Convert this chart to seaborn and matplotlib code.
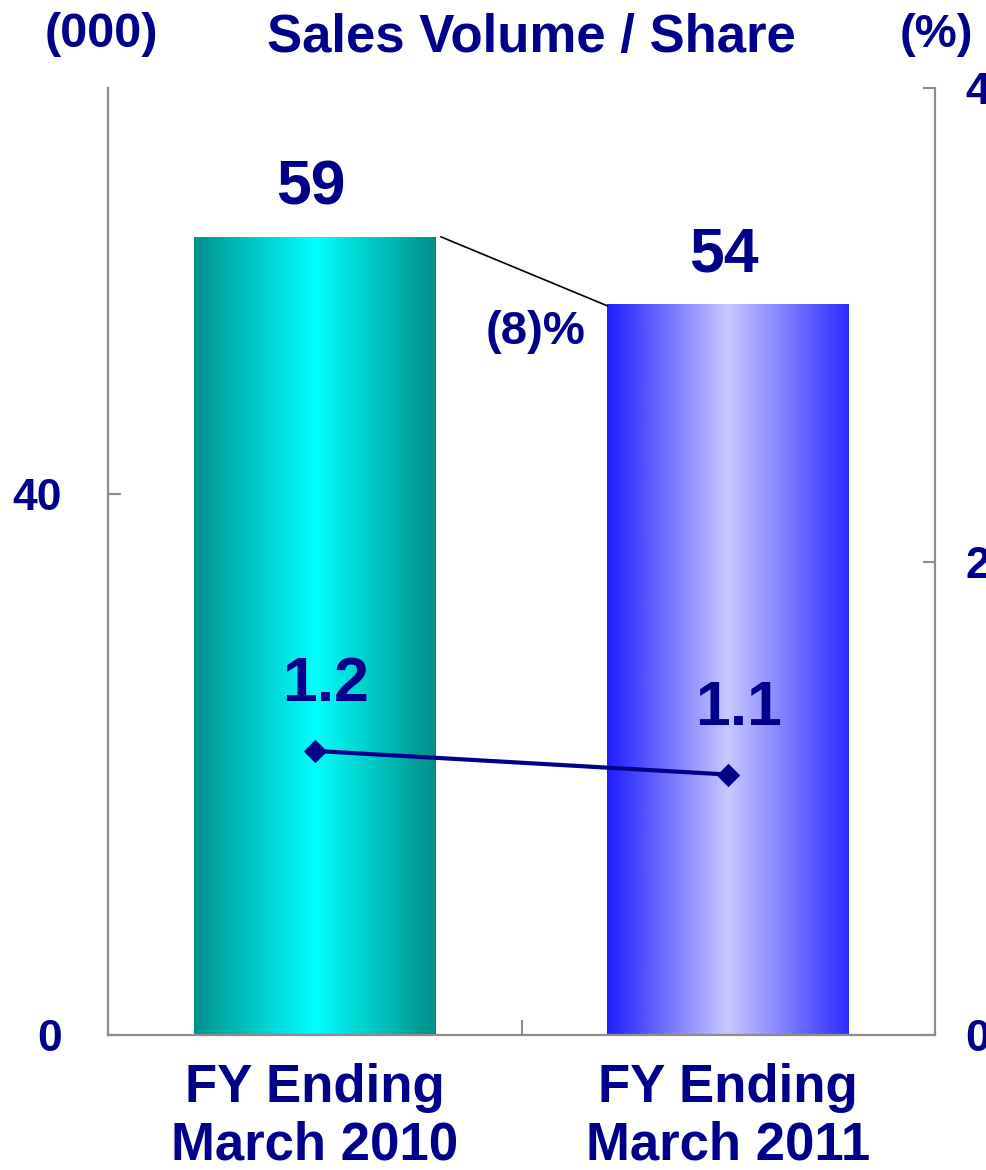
import numpy as np
import matplotlib.pyplot as plt
from matplotlib.colors import LinearSegmentedColormap
import seaborn as sns

# Chart data
periods = ["FY Ending\nMarch 2010", "FY Ending\nMarch 2011"]
volume = [59, 54]        # sales volume, thousands
share = [1.2, 1.1]       # market share, %
change_label = "(8)%"

navy = "#00008B"
axis_gray = "#8C8C8C"
bar_grads = [["#00928C", "#00FFFF", "#008E88"],
             ["#1E1EFF", "#C8C8FF", "#2C2CFF"]]

sns.set_theme(style="white")
plt.rcParams["font.family"] = ["Liberation Sans", "DejaVu Sans"]
plt.rcParams["font.weight"] = "bold"

fig = plt.figure(figsize=(9.86, 11.7), dpi=100)
ax = fig.add_axes([108 / 986, 135 / 1170, 827 / 986, 947 / 1170])

sns.barplot(x=periods, y=volume, hue=periods, palette=["#00CCCC", "#8888FF"],
            legend=False, width=0.585, saturation=1, ax=ax)

# gradient fill for each bar
grad = np.linspace(0, 1, 256).reshape(1, -1)
for patch, cols in zip(ax.patches, bar_grads):
    x0, y0 = patch.get_x(), patch.get_y()
    w, h = patch.get_width(), patch.get_height()
    cmap = LinearSegmentedColormap.from_list("bar", cols)
    im = ax.imshow(grad, cmap=cmap, aspect="auto",
                   extent=(x0, x0 + w, y0, y0 + h), zorder=patch.get_zorder())
    im.set_clip_path(patch)
    patch.set_facecolor("none")
    patch.set_edgecolor("none")

ax.set_xlim(-0.5, 1.5)
ax.set_ylim(0, 70)
ax.set_yticks([0, 40])
ax.set_xlabel("")
ax.set_ylabel("")

ax.tick_params(axis="y", left=True, direction="in", length=9, width=1.5,
               color=axis_gray, labelsize=32, labelcolor=navy, pad=33)
ax.tick_params(axis="x", which="major", length=0, labelsize=38,
               labelcolor=navy, pad=20)
ax.set_xticks([0.5], minor=True)
ax.tick_params(axis="x", which="minor", bottom=True, direction="in",
               length=11, width=1.5, color=axis_gray)
for lbl in ax.get_xticklabels() + ax.get_yticklabels():
    lbl.set_fontweight("bold")

for side in ["top", "right"]:
    ax.spines[side].set_visible(False)
for side in ["left", "bottom"]:
    ax.spines[side].set_color(axis_gray)
    ax.spines[side].set_linewidth(1.6)

# volume labels + change connector
for i, v in enumerate(volume):
    ax.text(i - 0.01, v + 2.4, f"{v}", ha="center", va="baseline",
            fontsize=45, color=navy, fontweight="bold")
ax.plot([0.305, 1 - 0.2925], [volume[0], volume[1] - 0.1], color="black", lw=1.2)
ax.text(0.535, volume[1] - 2.9, change_label, ha="center", va="baseline",
        fontsize=34, color=navy, fontweight="bold")

# share on secondary axis
ax2 = ax.twinx()
sns.lineplot(x=[0, 1], y=share, ax=ax2, color=navy, linewidth=3,
             marker="D", markersize=11, markeredgecolor=navy)
ax2.set_ylim(0, 4)
ax2.set_yticks([0, 2, 4])
ax2.tick_params(axis="y", right=True, direction="in", length=9, width=1.5,
                color=axis_gray, labelsize=32, labelcolor=navy, pad=22)
for lbl in ax2.get_yticklabels():
    lbl.set_fontweight("bold")
for side in ["top", "left", "bottom"]:
    ax2.spines[side].set_visible(False)
ax2.spines["right"].set_color(axis_gray)
ax2.spines["right"].set_linewidth(1.6)
ax2.set_ylabel("")

for i, s in enumerate(share):
    ax2.text(i + 0.025, s + 0.21, f"{s}", ha="center", va="baseline",
             fontsize=45, color=navy, fontweight="bold")

# header texts
fig.text(531 / 986, 1 - 52 / 1170, "Sales Volume / Share", ha="center",
         va="baseline", fontsize=38, color=navy, fontweight="bold")
fig.text(101 / 986, 1 - 47 / 1170, "(000)", ha="center", va="baseline",
         fontsize=35, color=navy, fontweight="bold")
fig.text(936 / 986, 1 - 47 / 1170, "(%)", ha="center", va="baseline",
         fontsize=34, color=navy, fontweight="bold")

fig.savefig("out.png", dpi=100)
